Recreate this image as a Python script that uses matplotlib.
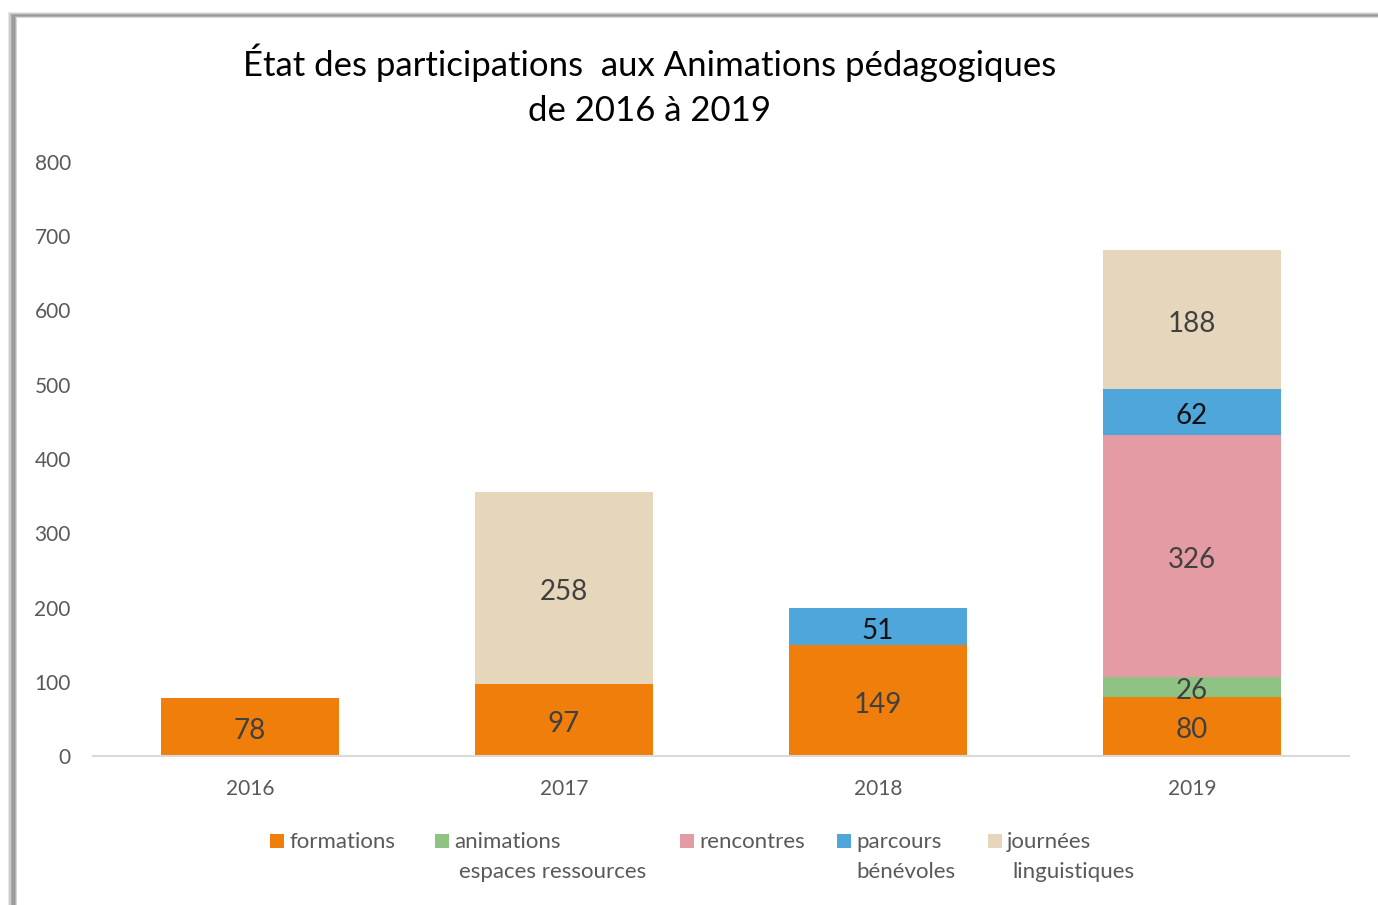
import matplotlib.pyplot as plt
import numpy as np
from matplotlib.patches import Rectangle

plt.rcParams['font.family'] = ['Lato', 'DejaVu Sans']

# Données
annees = ['2016', '2017', '2018', '2019']
series = ['formations', 'animations\nespaces ressources', 'rencontres',
          'parcours\nbénévoles', 'journées\nlinguistiques']
formations = [78, 97, 149, 80]
animations = [0, 0, 0, 26]
rencontres = [0, 0, 0, 326]
parcours = [0, 0, 51, 62]
journees = [0, 258, 0, 188]
valeurs = [formations, animations, rencontres, parcours, journees]

couleurs = ['#EF7F0A', '#8EC384', '#E59BA3', '#4EA6DA', '#E6D6BC']
couleurs_txt = ['#404040', '#404040', '#404040', '#111111', '#404040']

W, H = 1378, 905
fig = plt.figure(figsize=(W / 100, H / 100), dpi=100)
fig.set_facecolor('white')

# Cadre avec ombre (haut et gauche)
for i, g in enumerate(['#e8e8e8', '#cccccc', '#aaaaaa', '#999999', '#9c9c9c', '#b0b0b0', '#d8d8d8']):
    x0 = 8 + i * 1.3
    y0 = 12 + i * 0.9
    fig.patches.append(Rectangle((x0 / W, 0), 1, 1 - y0 / H, transform=fig.transFigure,
                                 facecolor=g, edgecolor='none', zorder=-5))
fig.patches.append(Rectangle((17 / W, 0), 1, 1 - 18 / H, transform=fig.transFigure,
                             facecolor='white', edgecolor='none', zorder=-4))

ax = fig.add_axes([93 / W, 1 - 756 / H, (1349 - 93) / W, (756 - 162) / H], zorder=2)
ax.set_facecolor('none')

x = np.arange(len(annees))
bas = np.zeros(len(annees))
for nom, vals, c, ct in zip(series, valeurs, couleurs, couleurs_txt):
    vals = np.array(vals, dtype=float)
    bars = ax.bar(x, vals, 0.57, bottom=bas, color=c, label=nom, zorder=2)
    for b, v, y0 in zip(bars, vals, bas):
        if v > 0:
            ax.annotate(f'{int(v)}', (b.get_x() + b.get_width() / 2, y0 + v / 2),
                        xytext=(0, -3), textcoords='offset points',
                        ha='center', va='center', fontsize=20, color=ct, zorder=3)
    bas += vals

ax.set_xlim(-0.5, 3.5)
ax.set_ylim(0, 800)
ax.set_yticks(range(0, 801, 100))
ax.set_xticks(x)
ax.set_xticklabels(annees)
ax.tick_params(axis='both', length=0, labelsize=15, colors='#595959')
ax.tick_params(axis='y', pad=16)
ax.tick_params(axis='x', pad=16.5)
for s in ['top', 'right', 'left']:
    ax.spines[s].set_visible(False)
ax.spines['bottom'].set_color('#D9D9D9')
ax.spines['bottom'].set_linewidth(1.5)

fig.text(650 / W, 1 - 85 / H, 'État des participations  aux Animations pédagogiques\nde 2016 à 2019',
         ha='center', va='center', fontsize=25, color='black', linespacing=1.5)

# Légende (carré aligné sur la première ligne)
pos_leg = [270, 435, 680, 837, 988]
retrait = [5, 5, 5, 0, 5]
for px, r, nom, c in zip(pos_leg, retrait, series, couleurs):
    fig.patches.append(Rectangle((px / W, 1 - 848 / H), 14 / W, 14 / H,
                                 transform=fig.transFigure, facecolor=c,
                                 edgecolor='none', zorder=3))
    lignes = nom.split('\n')
    fig.text((px + 19) / W, 1 - 842 / H, lignes[0], ha='left', va='center',
             fontsize=16, color='#595959')
    if len(lignes) > 1:
        fig.text((px + 19 + r) / W, 1 - 872 / H, lignes[1], ha='left', va='center',
                 fontsize=16, color='#595959')

fig.savefig('out.png', dpi=100)
